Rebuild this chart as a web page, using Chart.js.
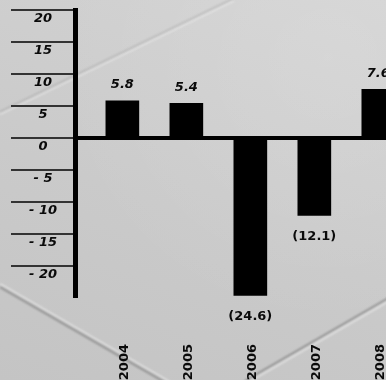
<!DOCTYPE html>
<html>
<head>
<meta charset="utf-8">
<script src="https://cdn.jsdelivr.net/npm/chart.js@4.4.1/dist/chart.umd.min.js"></script>
<style>
  html, body { margin: 0; padding: 0; }
  body {
    width: 386px; height: 380px; overflow: hidden; position: relative;
    background:
      radial-gradient(ellipse at 85% 15%, rgba(255,255,255,0.12), rgba(255,255,255,0) 60%),
      linear-gradient(200deg, #d3d3d3 0%, #cacaca 55%, #c4c4c4 100%);
  }
  .fold { position: absolute; height: 2px; transform-origin: 0 50%; filter: blur(0.8px); }
  .dark { background: rgba(70,70,70,0.45); }
  .light { background: rgba(245,245,245,0.55); }
  #chart { position: absolute; left: 0; top: 0; }
</style>
</head>
<body>
<!-- slate texture folds -->
<div class="fold light" style="left:0;top:283px;width:200px;transform:rotate(30deg)"></div>
<div class="fold dark"  style="left:0;top:286px;width:200px;transform:rotate(30deg)"></div>
<div class="fold dark"  style="left:245px;top:380px;width:170px;transform:rotate(-30deg)"></div>
<div class="fold light" style="left:245px;top:383px;width:170px;transform:rotate(-30deg)"></div>
<div class="fold light" style="left:0;top:113px;width:260px;transform:rotate(-25.9deg)"></div>
<div class="fold dark"  style="left:0;top:111px;width:260px;transform:rotate(-25.9deg);opacity:0.4"></div>

<canvas id="chart" width="386" height="380"></canvas>

<script>
// Annual change, per cent
const years = [2004, 2005, 2006, 2007, 2008];
const growth = [5.8, 5.4, -24.6, -12.1, 7.6];

// Value axis ticks and their printed labels
const tickValues = [20, 15, 10, 5, 0, -5, -10, -15, -20];
const tickLabels = ['20', '15', '10', '5', '0', '- 5', '- 10', '- 15', '- 20'];

const FONT = 'DejaVu Sans';

function formatValue(v) {
  return v < 0 ? '(' + Math.abs(v).toFixed(1) + ')' : v.toFixed(1);
}

// Writes each bar's value above (or below, for losses) the bar
const valueLabels = {
  id: 'valueLabels',
  afterDatasetsDraw(chart) {
    const ctx = chart.ctx;
    const meta = chart.getDatasetMeta(0);
    ctx.save();
    ctx.fillStyle = '#0a0a0a';
    ctx.textAlign = 'center';
    ctx.textBaseline = 'middle';
    meta.data.forEach((bar, i) => {
      const v = growth[i];
      if (v >= 0) {
        ctx.font = 'italic bold 13px "' + FONT + '"';
        ctx.fillText(formatValue(v), bar.x, bar.y - 16);
      } else {
        ctx.font = 'bold 13px "' + FONT + '"';
        ctx.fillText(formatValue(v), bar.x, bar.y + 21);
      }
    });
    ctx.restore();
  }
};

new Chart(document.getElementById('chart'), {
  type: 'bar',
  data: {
    datasets: [{
      data: years.map((yr, i) => ({ x: yr, y: growth[i] })),
      backgroundColor: '#000',
      borderWidth: 0,
      barThickness: 33
    }]
  },
  options: {
    responsive: false,
    animation: false,
    devicePixelRatio: 1,
    layout: { autoPadding: false, padding: { top: 10, left: 0, right: 0, bottom: 0 } },
    plugins: { legend: { display: false }, tooltip: { enabled: false } },
    scales: {
      x: {
        type: 'linear',
        bounds: 'data',
        offset: false,
        min: 2003.26,
        max: 2008.12,
        grid: { display: false, offset: false },
        border: { display: false },
        afterBuildTicks: s => { s.ticks = years.map(v => ({ value: v })); },
        afterFit: s => { s.height = 83; s.paddingLeft = 0; s.paddingRight = 0; },
        ticks: {
          autoSkip: false,
          minRotation: 90,
          maxRotation: 90,
          padding: 39,
          labelOffset: 2,
          color: '#0a0a0a',
          font: { family: FONT, weight: 'bold', size: 13 },
          callback: v => String(v)
        }
      },
      y: {
        bounds: 'data',
        min: -24.84,
        max: 20,
        afterBuildTicks: s => { s.ticks = tickValues.map(v => ({ value: v })); },
        afterFit: s => { s.width = 75; s.paddingTop = 0; s.paddingBottom = 0; },
        grid: {
          drawOnChartArea: true,
          drawTicks: true,
          tickLength: 64,
          color: c => (c.tick && c.tick.value === 0) ? '#000' : 'rgba(0,0,0,0)',
          lineWidth: c => (c.tick && c.tick.value === 0) ? 4 : 2,
          tickColor: '#333',
          tickWidth: 2
        },
        border: { display: true, color: '#000', width: 5 },
        ticks: {
          crossAlign: 'center',
          padding: -46,
          labelOffset: 9,
          color: '#0a0a0a',
          font: { family: FONT, weight: 'bold', style: 'italic', size: 13 },
          callback: v => tickLabels[tickValues.indexOf(v)]
        }
      }
    }
  },
  plugins: [valueLabels]
});
</script>
</body>
</html>
